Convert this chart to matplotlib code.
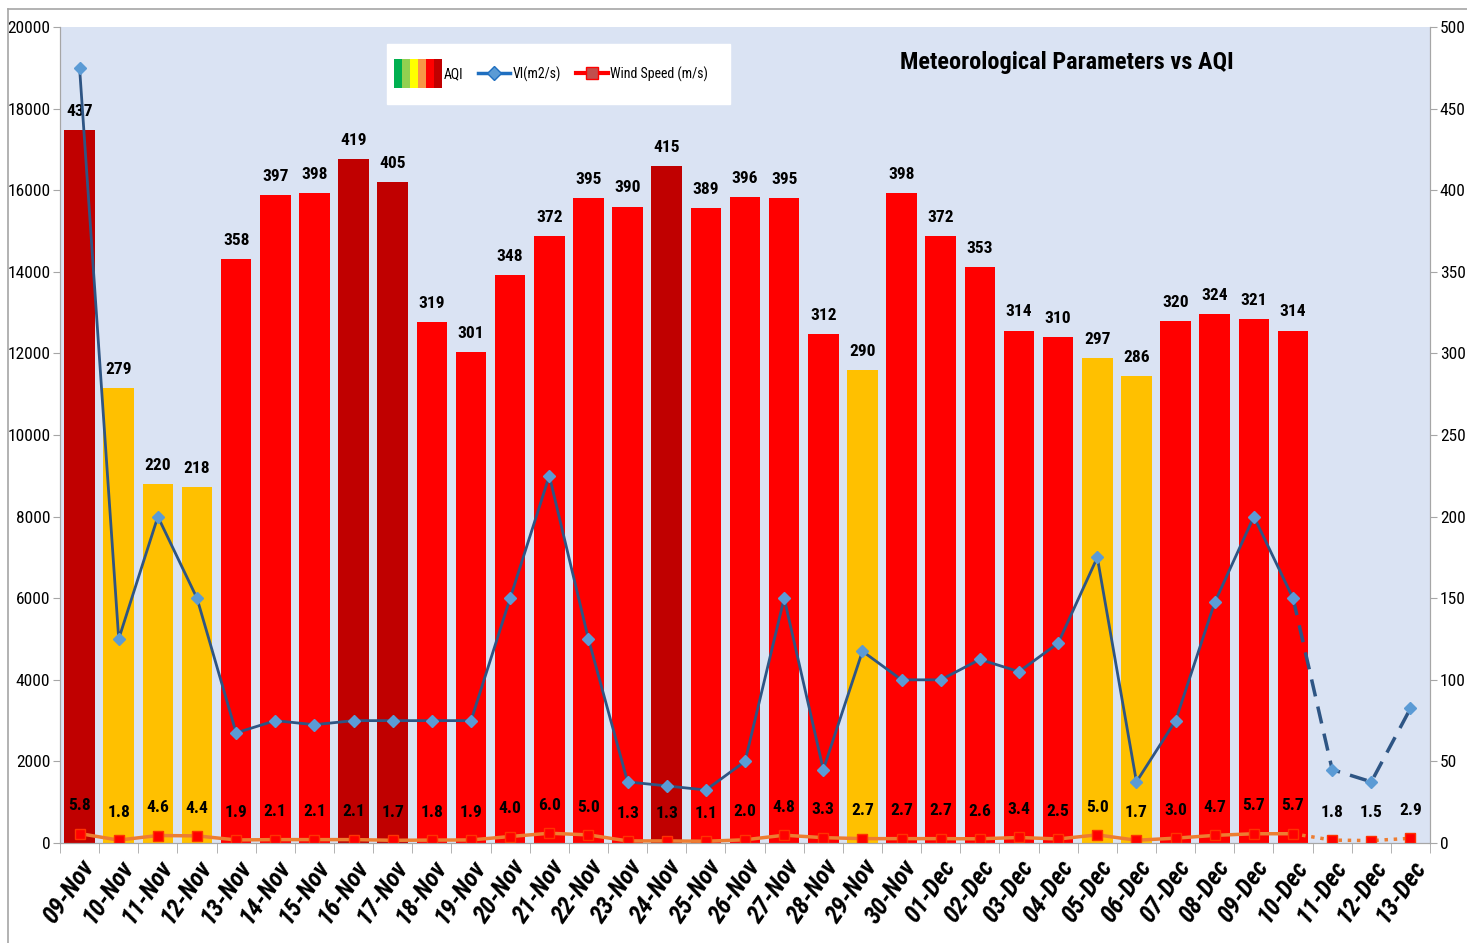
import numpy as np
import matplotlib
matplotlib.use("Agg")
import matplotlib.pyplot as plt
from matplotlib.lines import Line2D
from matplotlib.patches import Rectangle
from matplotlib.legend_handler import HandlerBase

plt.rcParams['font.family'] = ['Roboto Condensed', 'DejaVu Sans']

# ---- data ----
dates = ['09-Nov', '10-Nov', '11-Nov', '12-Nov', '13-Nov', '14-Nov', '15-Nov',
         '16-Nov', '17-Nov', '18-Nov', '19-Nov', '20-Nov', '21-Nov', '22-Nov',
         '23-Nov', '24-Nov', '25-Nov', '26-Nov', '27-Nov', '28-Nov', '29-Nov',
         '30-Nov', '01-Dec', '02-Dec', '03-Dec', '04-Dec', '05-Dec', '06-Dec',
         '07-Dec', '08-Dec', '09-Dec', '10-Dec', '11-Dec', '12-Dec', '13-Dec']

aqi = [437, 279, 220, 218, 358, 397, 398, 419, 405, 319, 301, 348, 372, 395,
       390, 415, 389, 396, 395, 312, 290, 398, 372, 353, 314, 310, 297, 286,
       320, 324, 321, 314, np.nan, np.nan, np.nan]

vi = [19000, 5000, 8000, 6000, 2700, 3000, 2900, 3000, 3000, 3000, 3000, 6000,
      9000, 5000, 1500, 1400, 1300, 2000, 6000, 1800, 4700, 4000, 4000, 4500,
      4200, 4900, 7000, 1500, 3000, 5900, 8000, 6000, 1800, 1500, 3300]

wind = [5.8, 1.8, 4.6, 4.4, 1.9, 2.1, 2.1, 2.1, 1.7, 1.8, 1.9, 4.0, 6.0, 5.0,
        1.3, 1.3, 1.1, 2.0, 4.8, 3.3, 2.7, 2.7, 2.7, 2.6, 3.4, 2.5, 5.0, 1.7,
        3.0, 4.7, 5.7, 5.7, 1.8, 1.5, 2.9]

n_obs = 32  # last day with AQI, later days are forecast (dashed)

BG = '#DAE3F3'
DARKRED, RED, AMBER = '#C00000', '#FF0000', '#FFC000'


def aqi_colour(v):
    if v > 400:
        return DARKRED
    if v > 300:
        return RED
    return AMBER


class GradientHandler(HandlerBase):
    cols = ['#00B050', '#92D050', '#FFFF00', '#F79646', '#FF0000', '#C00000']

    def create_artists(self, legend, orig_handle, xdescent, ydescent,
                       width, height, fontsize, trans):
        w = width * 1.5
        h = height * 3.0
        x0, y0 = -xdescent - 0.5 * width, -ydescent - 1.0 * height
        step = w / len(self.cols)
        return [Rectangle((x0 + i * step, y0), step, h, facecolor=c,
                          edgecolor='none', transform=trans)
                for i, c in enumerate(self.cols)]


fig = plt.figure(figsize=(14.67, 9.43), dpi=100)
ax2 = fig.add_axes([0.0409, 0.106, 0.9339, 0.8654])
ax = ax2.twinx()
ax.set_zorder(ax2.get_zorder() + 1)
ax.patch.set_visible(False)
ax2.set_facecolor(BG)

x = np.arange(len(dates))

# swap so left axis = VI, right axis = AQI/wind
ax2.yaxis.tick_right()
ax2.yaxis.set_label_position('right')
ax.yaxis.tick_left()
ax.yaxis.set_label_position('left')

# AQI bars
aqi_arr = np.array(aqi, dtype=float)
cols = [aqi_colour(v) if not np.isnan(v) else 'none' for v in aqi_arr]
ax2.bar(x, aqi_arr, width=0.78, color=cols, zorder=2)
for xi, v in zip(x, aqi_arr):
    if not np.isnan(v):
        ax2.annotate(f'{int(v)}', (xi, v), xytext=(0, 8), textcoords='offset points',
                     ha='center', va='bottom', fontsize=12.5, fontweight='bold')

# wind speed (right axis)
ax2.plot(x[:n_obs], wind[:n_obs], color='#ED7D31', lw=2.5, zorder=3)
ax2.plot(x[n_obs - 1:], wind[n_obs - 1:], color='#ED7D31', lw=2.5, ls=':', zorder=3)
ax2.plot(x, wind, ls='none', marker='s', ms=7, mfc='#FF0000', mec='#FF3300', zorder=4)
for xi, w in zip(x, wind):
    ax2.annotate(f'{w:.1f}', (xi, w), xytext=(0, 20), textcoords='offset points',
                 ha='center', va='center', fontsize=12.5, fontweight='bold')

# VI line (left axis)
ax.plot(x[:n_obs], vi[:n_obs], color='#2E5584', lw=2, zorder=5)
ax.plot(x[n_obs - 1:], vi[n_obs - 1:], color='#2E5584', lw=2.5, ls=(0, (5, 3)), zorder=5)
ax.plot(x, vi, ls='none', marker='D', ms=6, mfc='#5B9BD5', mec='#5B9BD5', zorder=6)

# axes
ax.set_xlim(-0.5, len(dates) - 0.5)
ax.set_ylim(0, 20000)
ax2.set_ylim(0, 500)
ax.set_yticks(np.arange(0, 20001, 2000))
ax2.set_yticks(np.arange(0, 501, 50))
ax2.set_xticks(x)
ax2.set_xticklabels(dates, rotation=55, ha='right', rotation_mode='anchor',
                    fontsize=18, fontweight='bold', style='italic')
ax2.set_xticks(np.arange(-0.5, len(dates)), minor=True)
ax2.tick_params(axis='x', which='major', length=0, pad=9)
ax2.tick_params(axis='x', which='minor', length=7, color='#A6A6A6', direction='out')
ax.tick_params(axis='y', length=5, color='#A6A6A6', labelsize=12.5, pad=2)
ax2.tick_params(axis='y', length=5, color='#A6A6A6', labelsize=12.5, pad=2)

for a in (ax, ax2):
    a.spines['top'].set_visible(False)
    for s in ('left', 'right', 'bottom'):
        a.spines[s].set_color('#A6A6A6')

# title
ax.text(0.735, 0.956, 'Meteorological Parameters vs AQI', transform=ax.transAxes,
        ha='center', va='center', fontsize=17.5, fontweight='bold')

# legend
handles = [Rectangle((0, 0), 1, 1),
           Line2D([], [], color='#1F6FC0', lw=2.5, marker='D', ms=7, mfc='#5B9BD5'),
           Line2D([], [], color='#FF0000', lw=3, marker='s', ms=8, mfc='#C0504D', mec='#FF0000')]
leg = ax.legend(handles, ['AQI', 'VI(m2/s)', 'Wind Speed (m/s)'],
                handler_map={Rectangle: GradientHandler()},
                loc='upper left', bbox_to_anchor=(0.239, 0.979), borderaxespad=0,
                ncol=3, fontsize=10, frameon=True, fancybox=False, edgecolor='white',
                framealpha=1, handlelength=2.3, handletextpad=0.15, columnspacing=1.1,
                borderpad=1.6)

# outer border of the chart area
fig.add_artist(Line2D([0.0055, 1], [0.9905, 0.9905], color='#A6A6A6', lw=1.2,
                      transform=fig.transFigure))
fig.add_artist(Line2D([0.0055, 0.0055], [0, 0.9905], color='#A6A6A6', lw=1.2,
                      transform=fig.transFigure))

fig.savefig('out.png', dpi=100)
